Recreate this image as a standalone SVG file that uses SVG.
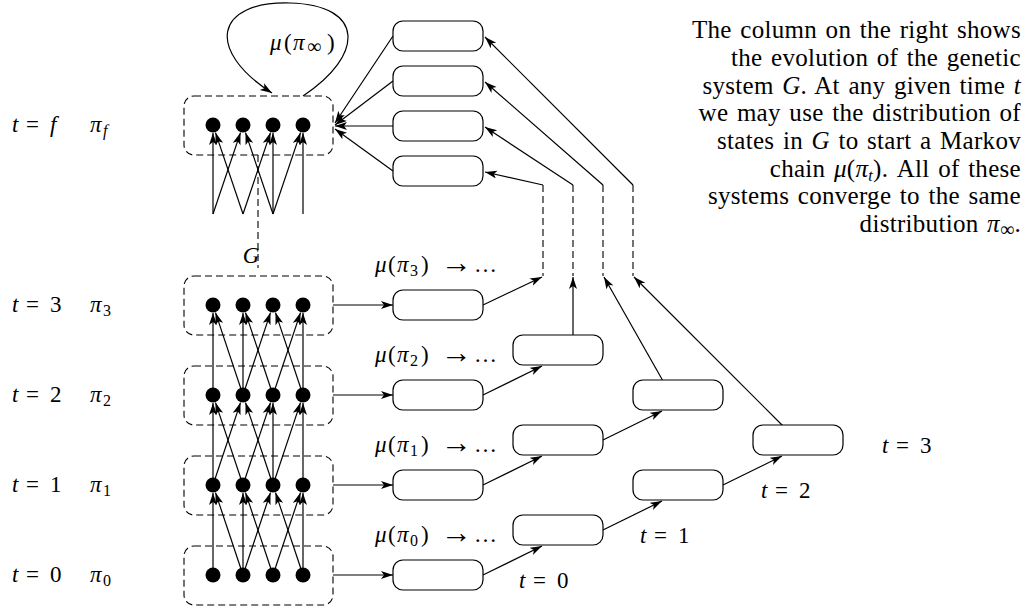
<svg xmlns="http://www.w3.org/2000/svg" width="1035" height="610" viewBox="0 0 1035 610">
<style>
.box{fill:none;stroke:#000;stroke-width:1.1;stroke-dasharray:7 4}
.rb{fill:#fff;stroke:#000;stroke-width:1.2}
.dot{fill:#000}
.ar{fill:none;stroke:#000;stroke-width:1.2;marker-end:url(#ah)}
.dash{fill:none;stroke:#000;stroke-width:1.1;stroke-dasharray:7 4}
text{font-family:"Liberation Serif","Times New Roman",serif;fill:#000;font-size:23px}
.i{font-style:italic}
.s{font-size:16px}
.inf{font-size:20px}
.arw{font-size:31px}
.cap{font-size:25px;text-anchor:end;word-spacing:2px;letter-spacing:0.3px}
</style>
<defs>
<marker id="ah" markerWidth="14" markerHeight="10" refX="12" refY="4" orient="auto" markerUnits="userSpaceOnUse"><path d="M0,0 L12,4 L0,8 L3,4 z" fill="#000"/></marker>
</defs>

<g id="connectors">
<path class="ar" d="M213,575 L213,493"/>
<path class="ar" d="M243,575 L215.5,492.6"/>
<path class="ar" d="M243,575 L243,493"/>
<path class="ar" d="M243,575 L270.5,492.6"/>
<path class="ar" d="M273,575 L245.5,492.6"/>
<path class="ar" d="M273,575 L300.5,492.6"/>
<path class="ar" d="M303,575 L275.5,492.6"/>
<path class="ar" d="M303,575 L303,493"/>
<path class="ar" d="M213,485 L213,403"/>
<path class="ar" d="M213,485 L240.5,402.6"/>
<path class="ar" d="M243,485 L215.5,402.6"/>
<path class="ar" d="M243,485 L270.5,402.6"/>
<path class="ar" d="M273,485 L245.5,402.6"/>
<path class="ar" d="M273,485 L273,403"/>
<path class="ar" d="M273,485 L300.5,402.6"/>
<path class="ar" d="M303,485 L303,403"/>
<path class="ar" d="M213,395 L213,313"/>
<path class="ar" d="M243,395 L215.5,312.6"/>
<path class="ar" d="M243,395 L243,313"/>
<path class="ar" d="M243,395 L270.5,312.6"/>
<path class="ar" d="M273,395 L245.5,312.6"/>
<path class="ar" d="M273,395 L300.5,312.6"/>
<path class="ar" d="M303,395 L275.5,312.6"/>
<path class="ar" d="M303,395 L303,313"/>
<path class="ar" d="M213,214 L213,133"/>
<path class="ar" d="M213,214 L240.5,132.6"/>
<path class="ar" d="M243,214 L215.5,132.6"/>
<path class="ar" d="M243,214 L270.5,132.6"/>
<path class="ar" d="M273,214 L245.5,132.6"/>
<path class="ar" d="M273,214 L273,133"/>
<path class="ar" d="M273,214 L300.5,132.6"/>
<path class="ar" d="M303,214 L303,133"/>
<path class="dash" d="M258,155 L258,268"/>
<path class="ar" d="M303,96 C365,55 365,5 290,3 C215,1 205,50 272,93"/>
<path class="ar" d="M333,305 L393,305"/>
<path class="ar" d="M333,395 L393,395"/>
<path class="ar" d="M333,485 L393,485"/>
<path class="ar" d="M333,575 L393,575"/>
<path class="ar" d="M483,575 L542,546"/>
<path class="ar" d="M483,485 L542,456"/>
<path class="ar" d="M483,395 L542,366"/>
<path class="ar" d="M483,305 L542,277"/>
<path class="ar" d="M603,530 L662,501"/>
<path class="ar" d="M603,440 L662,411"/>
<path class="ar" d="M723,485 L782,456"/>
<path class="ar" d="M573,336 L573,277"/>
<path class="ar" d="M663,381 L604,277"/>
<path class="ar" d="M783,426 L634,277"/>
<path class="dash" d="M543,185 L543,276"/>
<path class="dash" d="M573,185 L573,276"/>
<path class="dash" d="M603,185 L603,276"/>
<path class="dash" d="M633,185 L633,276"/>
<path class="ar" d="M543,185 L485,172"/>
<path class="ar" d="M573,185 L485,127"/>
<path class="ar" d="M603,185 L485,82"/>
<path class="ar" d="M633,185 L485,37"/>
<path class="ar" d="M393,36 L335,123"/>
<path class="ar" d="M393,81 L335,125"/>
<path class="ar" d="M393,126 L335,126"/>
<path class="ar" d="M393,171 L335,129"/>
</g>

<g id="layer-f">
<rect class="box" x="184" y="96" width="149" height="59" rx="10"/>
<circle class="dot" cx="213" cy="125" r="7.5"/><circle class="dot" cx="243" cy="125" r="7.5"/><circle class="dot" cx="273" cy="125" r="7.5"/><circle class="dot" cx="303" cy="125" r="7.5"/>
</g>
<g id="layer-3">
<rect class="box" x="184" y="276" width="149" height="59" rx="10"/>
<circle class="dot" cx="213" cy="305" r="7.5"/><circle class="dot" cx="243" cy="305" r="7.5"/><circle class="dot" cx="273" cy="305" r="7.5"/><circle class="dot" cx="303" cy="305" r="7.5"/>
</g>
<g id="layer-2">
<rect class="box" x="184" y="366" width="149" height="59" rx="10"/>
<circle class="dot" cx="213" cy="395" r="7.5"/><circle class="dot" cx="243" cy="395" r="7.5"/><circle class="dot" cx="273" cy="395" r="7.5"/><circle class="dot" cx="303" cy="395" r="7.5"/>
</g>
<g id="layer-1">
<rect class="box" x="184" y="456" width="149" height="59" rx="10"/>
<circle class="dot" cx="213" cy="485" r="7.5"/><circle class="dot" cx="243" cy="485" r="7.5"/><circle class="dot" cx="273" cy="485" r="7.5"/><circle class="dot" cx="303" cy="485" r="7.5"/>
</g>
<g id="layer-0">
<rect class="box" x="184" y="546" width="149" height="59" rx="10"/>
<circle class="dot" cx="213" cy="575" r="7.5"/><circle class="dot" cx="243" cy="575" r="7.5"/><circle class="dot" cx="273" cy="575" r="7.5"/><circle class="dot" cx="303" cy="575" r="7.5"/>
</g>

<g id="top-boxes">
<rect id="tb1" class="rb" x="393" y="21" width="90" height="30" rx="10"/>
<rect id="tb2" class="rb" x="393" y="66" width="90" height="30" rx="10"/>
<rect id="tb3" class="rb" x="393" y="111" width="90" height="30" rx="10"/>
<rect id="tb4" class="rb" x="393" y="156" width="90" height="30" rx="10"/>
</g>
<g id="chain-boxes">
<rect id="c0-0" class="rb" x="393" y="560" width="90" height="30" rx="10"/>
<rect id="c1-0" class="rb" x="393" y="470" width="90" height="30" rx="10"/>
<rect id="c2-0" class="rb" x="393" y="380" width="90" height="30" rx="10"/>
<rect id="c3-0" class="rb" x="393" y="290" width="90" height="30" rx="10"/>
<rect id="c0-1" class="rb" x="513" y="515" width="90" height="30" rx="10"/>
<rect id="c1-1" class="rb" x="513" y="425" width="90" height="30" rx="10"/>
<rect id="c2-1" class="rb" x="513" y="335" width="90" height="30" rx="10"/>
<rect id="c0-2" class="rb" x="633" y="470" width="90" height="30" rx="10"/>
<rect id="c1-2" class="rb" x="633" y="380" width="90" height="30" rx="10"/>
<rect id="c0-3" class="rb" x="753" y="425" width="90" height="30" rx="10"/>
</g>

<g id="labels">
<text y="50"><tspan x="270" class="i">μ</tspan><tspan x="284">(</tspan><tspan class="i" x="293">π</tspan><tspan class="inf" x="307" dy="3">∞</tspan><tspan x="327" dy="-3">)</tspan></text>
<text x="251" y="263" text-anchor="middle" class="i">G</text>

<text y="132"><tspan x="12" class="i">t</tspan><tspan x="26">=</tspan><tspan x="50" class="i">f</tspan><tspan x="90" class="i">π</tspan><tspan x="103" dy="4" class="s i">f</tspan></text>
<text y="312"><tspan x="12" class="i">t</tspan><tspan x="26">=</tspan><tspan x="50">3</tspan><tspan x="90" class="i">π</tspan><tspan x="103" dy="4" class="s">3</tspan></text>
<text y="402"><tspan x="12" class="i">t</tspan><tspan x="26">=</tspan><tspan x="50">2</tspan><tspan x="90" class="i">π</tspan><tspan x="103" dy="4" class="s">2</tspan></text>
<text y="492"><tspan x="12" class="i">t</tspan><tspan x="26">=</tspan><tspan x="50">1</tspan><tspan x="90" class="i">π</tspan><tspan x="103" dy="4" class="s">1</tspan></text>
<text y="582"><tspan x="12" class="i">t</tspan><tspan x="26">=</tspan><tspan x="50">0</tspan><tspan x="90" class="i">π</tspan><tspan x="103" dy="4" class="s">0</tspan></text>

<text y="272"><tspan x="375" class="i">μ</tspan><tspan x="388">(</tspan><tspan x="397" class="i">π</tspan><tspan x="410" dy="4" class="s">3</tspan><tspan x="421" dy="-4">)</tspan><tspan x="441" dy="1" class="arw">→</tspan><tspan x="474" dy="-1">…</tspan></text>
<text y="362"><tspan x="375" class="i">μ</tspan><tspan x="388">(</tspan><tspan x="397" class="i">π</tspan><tspan x="410" dy="4" class="s">2</tspan><tspan x="421" dy="-4">)</tspan><tspan x="441" dy="1" class="arw">→</tspan><tspan x="474" dy="-1">…</tspan></text>
<text y="452"><tspan x="375" class="i">μ</tspan><tspan x="388">(</tspan><tspan x="397" class="i">π</tspan><tspan x="410" dy="4" class="s">1</tspan><tspan x="421" dy="-4">)</tspan><tspan x="441" dy="1" class="arw">→</tspan><tspan x="474" dy="-1">…</tspan></text>
<text y="542"><tspan x="375" class="i">μ</tspan><tspan x="388">(</tspan><tspan x="397" class="i">π</tspan><tspan x="410" dy="4" class="s">0</tspan><tspan x="421" dy="-4">)</tspan><tspan x="441" dy="1" class="arw">→</tspan><tspan x="474" dy="-1">…</tspan></text>

<text y="588"><tspan x="519" class="i">t</tspan><tspan x="533">=</tspan><tspan x="557">0</tspan></text>
<text y="543"><tspan x="640" class="i">t</tspan><tspan x="654">=</tspan><tspan x="678">1</tspan></text>
<text y="498"><tspan x="761" class="i">t</tspan><tspan x="775">=</tspan><tspan x="799">2</tspan></text>
<text y="453"><tspan x="882" class="i">t</tspan><tspan x="896">=</tspan><tspan x="920">3</tspan></text>
</g>

<g id="caption">
<text class="cap" x="1021" y="38">The column on the right shows</text>
<text class="cap" x="1021" y="66">the evolution of the genetic</text>
<text class="cap" x="1021" y="94">system <tspan class="i">G</tspan>. At any given time <tspan class="i">t</tspan></text>
<text class="cap" x="1021" y="121">we may use the distribution of</text>
<text class="cap" x="1021" y="149">states in <tspan class="i">G</tspan> to start a Markov</text>
<text class="cap" x="1021" y="177">chain <tspan class="i">μ</tspan>(<tspan class="i">π</tspan><tspan class="s i" dy="4">t</tspan><tspan dy="-4">). All of these</tspan></text>
<text class="cap" x="1021" y="204">systems converge to the same</text>
<text class="cap" x="1021" y="232">distribution <tspan class="i">π</tspan><tspan class="inf" dy="4">∞</tspan><tspan dy="-4">.</tspan></text>
</g>
</svg>
